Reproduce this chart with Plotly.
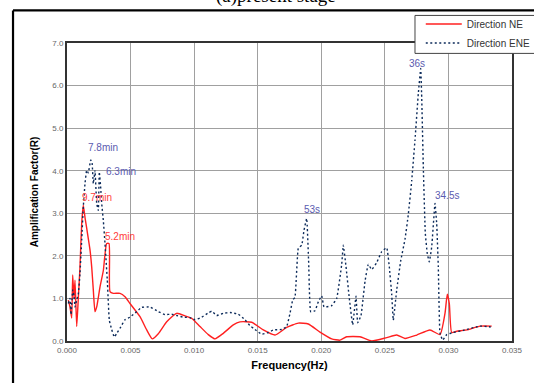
import plotly.graph_objects as go

# Direction NE (red, solid)
ne_freq = [0.000102, 0.000236, 0.000370, 0.000448, 0.000551, 0.000629, 0.000763, 0.000889,
           0.001022, 0.001156, 0.001282, 0.001416, 0.001549, 0.001809, 0.001943, 0.002069,
           0.002202, 0.002336, 0.002596, 0.002855, 0.003122, 0.003303, 0.003382, 0.003642,
           0.004169, 0.004562, 0.004955, 0.005742, 0.006269, 0.006709, 0.007181, 0.007842,
           0.008628, 0.009281, 0.009808, 0.010461, 0.011114, 0.011640, 0.012293, 0.013080,
           0.013607, 0.014527, 0.015439, 0.016360, 0.017280, 0.018192, 0.018979, 0.019899,
           0.020819, 0.021472, 0.021999, 0.023045, 0.023965, 0.025145, 0.025932, 0.026584,
           0.027505, 0.028551, 0.029337, 0.029730, 0.029911, 0.030069, 0.030257, 0.030651,
           0.031437, 0.032483, 0.033403]
ne_amp = [0.96, 0.80, 0.54, 1.55, 1.00, 1.43, 0.34, 1.00,
          1.74, 2.76, 3.19, 2.90, 2.65, 2.14, 1.74, 1.20,
          0.69, 0.80, 1.27, 1.65, 2.29, 2.29, 1.16, 1.12,
          1.12, 1.04, 0.88, 0.57, 0.26, 0.05, 0.17, 0.45,
          0.65, 0.59, 0.53, 0.34, 0.15, 0.05, 0.18, 0.38,
          0.45, 0.44, 0.26, 0.14, 0.32, 0.42, 0.40, 0.21,
          0.05, 0.02, 0.10, 0.10, 0.00, 0.08, 0.14, 0.06,
          0.14, 0.26, 0.15, 0.65, 1.10, 0.88, 0.20, 0.23,
          0.26, 0.35, 0.35]

# Direction ENE (navy, dotted)
ene_freq = [0.000102, 0.000236, 0.000315, 0.000448, 0.000551, 0.000629, 0.000763, 0.000889,
            0.001022, 0.001156, 0.001282, 0.001416, 0.001549, 0.001675, 0.001864, 0.001966,
            0.002069, 0.002202, 0.002336, 0.002462, 0.002540, 0.002651, 0.002729, 0.002855,
            0.002989, 0.003170, 0.003327, 0.003516, 0.003720, 0.003909, 0.004169, 0.004562,
            0.004955, 0.005482, 0.005875, 0.006528, 0.007181, 0.007708, 0.008235, 0.008628,
            0.009147, 0.009674, 0.010067, 0.010594, 0.011114, 0.011381, 0.011774, 0.012293,
            0.012820, 0.013473, 0.014000, 0.014393, 0.014653, 0.015313, 0.015833, 0.016226,
            0.016887, 0.017280, 0.017539, 0.017752, 0.017933, 0.018192, 0.018460, 0.018640,
            0.018853, 0.019010, 0.019168, 0.019506, 0.019765, 0.020033, 0.020214, 0.020819,
            0.021212, 0.021606, 0.021732, 0.021944, 0.022204, 0.022471, 0.022730, 0.022864,
            0.023124, 0.023438, 0.023698, 0.023965, 0.024359, 0.024752, 0.025145, 0.025350,
            0.025538, 0.025664, 0.025932, 0.026246, 0.026584, 0.026844, 0.027111, 0.027371,
            0.027631, 0.027819, 0.027898, 0.028024, 0.028181, 0.028338, 0.028496, 0.028684,
            0.028944, 0.029077, 0.029203, 0.029337, 0.029549, 0.029864, 0.030383, 0.031170,
            0.032483, 0.033325]
ene_amp = [0.88, 1.00, 0.62, 1.20, 1.06, 0.80, 0.96, 1.10,
           1.59, 2.37, 3.15, 3.70, 4.01, 3.95, 4.25, 4.20,
           3.70, 4.00, 3.23, 3.07, 3.97, 3.60, 3.23, 2.84,
           2.29, 1.43, 0.49, 0.27, 0.09, 0.18, 0.30, 0.50,
           0.56, 0.69, 0.79, 0.80, 0.69, 0.62, 0.63, 0.60,
           0.56, 0.55, 0.50, 0.56, 0.66, 0.70, 0.60, 0.65,
           0.67, 0.63, 0.50, 0.36, 0.30, 0.16, 0.20, 0.26,
           0.27, 0.34, 0.65, 0.96, 1.03, 2.18, 2.25, 2.60,
           2.88, 1.82, 0.69, 0.71, 0.92, 1.06, 0.80, 0.83,
           1.00, 1.80, 2.25, 1.75, 1.00, 0.38, 1.05, 0.43,
           0.60, 1.40, 1.80, 1.68, 1.84, 2.10, 2.19, 1.74,
           1.10, 0.49, 1.20, 1.88, 2.39, 2.97, 3.76, 4.72,
           5.81, 6.40, 5.73, 4.09, 2.53, 2.05, 1.86, 2.21,
           3.23, 2.76, 1.74, 0.18, 0.02, 0.15, 0.20, 0.25,
           0.35, 0.33]

# Peak labels
lbl_text = ["7.8min", "6.3min", "53s", "36s", "34.5s", "9.7min", "5.2min"]
lbl_x = [0.00287, 0.00425, 0.01927, 0.02750, 0.02989, 0.00236, 0.00417]
lbl_y = [4.55, 3.97, 3.10, 6.53, 3.41, 3.37, 2.45]
lbl_color = ["#5b5bb0"] * 5 + ["#ff3b3b"] * 2

x_ticks = [0.000, 0.005, 0.010, 0.015, 0.020, 0.025, 0.030, 0.035]
y_ticks = [0, 1, 2, 3, 4, 5, 6, 7]

fig = go.Figure()
fig.add_trace(go.Scatter(x=ne_freq, y=ne_amp, mode="lines", name="Direction NE",
                         line=dict(color="#ff2020", width=1.4, shape="spline", smoothing=0.5)))
fig.add_trace(go.Scatter(x=ene_freq, y=ene_amp, mode="lines", name="Direction ENE",
                         line=dict(color="#0b2a5a", width=1.4, dash="2px,2.5px",
                                   shape="spline", smoothing=0.3)))

for t, x, y, c in zip(lbl_text, lbl_x, lbl_y, lbl_color):
    fig.add_annotation(x=x, y=y, text=t, showarrow=False,
                       font=dict(family="Liberation Sans, Arial", size=10, color=c))

# outer frame (partially visible) and cut-off title
fig.add_shape(type="line", xref="paper", yref="paper", x0=-0.1213, x1=-0.1213, y0=-0.3, y1=1.1093,
              line=dict(color="black", width=2.2))
fig.add_shape(type="line", xref="paper", yref="paper", x0=-0.1213, x1=1.3, y0=1.1093, y1=1.1093,
              line=dict(color="black", width=2.2))
fig.add_annotation(xref="paper", yref="paper", x=0.47, y=1.113, yanchor="bottom", xanchor="center",
                   text="(a)present stage", showarrow=False,
                   font=dict(family="Liberation Serif, Times New Roman", size=19, color="black"))
# legend box
fig.add_shape(type="rect", xref="paper", yref="paper", x0=0.782, x1=1.3, y0=0.9651, y1=1.0925,
              line=dict(color="#444", width=1), fillcolor="white", layer="above")

fig.update_layout(
    width=534, height=383,
    margin=dict(l=67, r=22, t=43, b=42, autoexpand=False),
    paper_bgcolor="white", plot_bgcolor="white",
    font=dict(family="Liberation Sans, Arial", color="#555"),
    showlegend=True,
    legend=dict(x=0.795, y=1.1126, xanchor="left", yanchor="top",
                bgcolor="rgba(0,0,0,0)", borderwidth=0,
                font=dict(size=10, color="#333"), itemwidth=36, tracegroupgap=0),
    xaxis=dict(range=[0, 0.035], tickvals=x_ticks, tickformat=".3f",
               showgrid=True, gridcolor="#a0a0a0", gridwidth=1.2,
               showline=True, linecolor="#333", linewidth=2, mirror=True,
               ticks="", zeroline=False, tickfont=dict(size=8, color="#666"),
               title=dict(text="<b>Frequency(Hz)</b>", font=dict(size=11, color="black"), standoff=8)),
    yaxis=dict(range=[0, 7], tickvals=y_ticks, tickformat=".1f",
               showgrid=True, gridcolor="#a0a0a0", gridwidth=1.2,
               showline=True, linecolor="#333", linewidth=2, mirror=True,
               ticks="", zeroline=False, tickfont=dict(size=8, color="#666"),
               title=dict(text="<b>Amplification Factor(R)</b>", font=dict(size=10, color="black"), standoff=12)),
)

fig.write_html("out.html")
